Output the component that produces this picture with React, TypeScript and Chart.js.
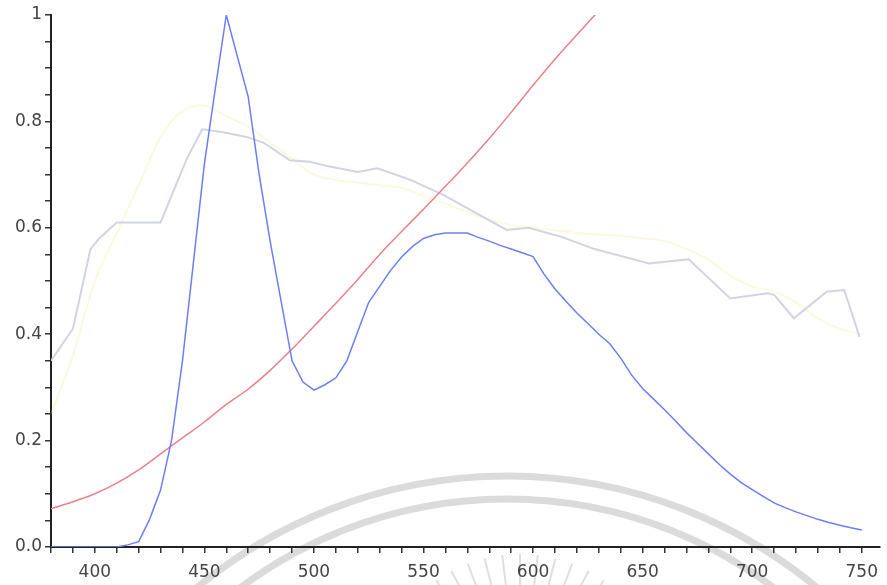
import React, { useEffect, useRef } from 'react';
import { Chart, registerables } from 'chart.js';

Chart.register(...registerables);

// ---- Data (wavelength in nm, relative values) ----
const blueX = [380, 385, 390, 395, 400, 405, 410, 415, 420, 425, 430, 435, 440, 445, 450, 455, 460, 465, 470, 475, 480, 485, 490, 495, 500, 505, 510, 515, 520, 525, 530, 535, 540, 545, 550, 555, 560, 565, 570, 575, 580, 585, 590, 595, 600, 605, 610, 615, 620, 625, 630, 635, 640, 645, 650, 655, 660, 665, 670, 675, 680, 685, 690, 695, 700, 705, 710, 715, 720, 725, 730, 735, 740, 745, 750];
const blueY = [0, 0, 0, 0, 0, 0, 0, 0.004, 0.01, 0.052, 0.107, 0.2, 0.35, 0.535, 0.72, 0.862, 1.0, 0.923, 0.846, 0.7, 0.575, 0.462, 0.35, 0.31, 0.295, 0.305, 0.318, 0.35, 0.405, 0.46, 0.49, 0.52, 0.545, 0.565, 0.58, 0.587, 0.59, 0.59, 0.59, 0.582, 0.575, 0.567, 0.56, 0.553, 0.546, 0.513, 0.485, 0.462, 0.44, 0.42, 0.4, 0.382, 0.355, 0.323, 0.298, 0.278, 0.258, 0.237, 0.215, 0.195, 0.175, 0.155, 0.137, 0.121, 0.108, 0.095, 0.083, 0.074, 0.066, 0.059, 0.052, 0.046, 0.041, 0.036, 0.032];

const redX = [380, 390, 400, 410, 420, 430, 440, 450, 460, 470, 480, 490, 500, 510, 520, 530, 540, 550, 560, 570, 580, 590, 600, 610, 620, 630];
const redY = [0.072, 0.085, 0.1, 0.12, 0.145, 0.175, 0.205, 0.235, 0.268, 0.297, 0.332, 0.372, 0.415, 0.458, 0.503, 0.55, 0.593, 0.635, 0.678, 0.722, 0.768, 0.817, 0.868, 0.917, 0.963, 1.008];

const grayX = [380, 390, 398, 402, 410, 430, 438, 442, 449, 458, 470, 477, 489, 498, 506, 520, 529, 544, 559, 588, 598, 613, 628, 653, 671, 690, 707, 710, 719, 734, 742, 749];
const grayY = [0.35, 0.41, 0.56, 0.58, 0.61, 0.61, 0.69, 0.73, 0.785, 0.78, 0.77, 0.76, 0.727, 0.724, 0.716, 0.705, 0.712, 0.69, 0.662, 0.596, 0.6, 0.583, 0.56, 0.533, 0.541, 0.467, 0.477, 0.474, 0.43, 0.48, 0.483, 0.395];

const yellowX = [380, 390, 400, 410, 420, 430, 440, 450, 460, 470, 480, 490, 500, 510, 520, 530, 540, 550, 560, 570, 580, 590, 600, 610, 620, 630, 640, 650, 660, 670, 680, 690, 700, 710, 720, 730, 740, 750];
const yellowY = [0.25, 0.36, 0.5, 0.59, 0.68, 0.77, 0.82, 0.83, 0.81, 0.79, 0.76, 0.73, 0.7, 0.69, 0.685, 0.68, 0.675, 0.66, 0.645, 0.63, 0.615, 0.605, 0.6, 0.595, 0.59, 0.587, 0.585, 0.58, 0.575, 0.56, 0.54, 0.51, 0.49, 0.48, 0.46, 0.43, 0.41, 0.4];

const xMajorTicks = [400, 450, 500, 550, 600, 650, 700, 750];
const yMajorTicks = [0, 0.2, 0.4, 0.6, 0.8, 1];
const yMajorLabels = ['0.0', '0.2', '0.4', '0.6', '0.8', '1'];

const toPoints = (xs: number[], ys: number[]) => xs.map((x, i) => ({ x, y: ys[i] }));

// Decorative background watermark (not data)
const watermark = {
  id: 'watermark',
  beforeDraw(chart: any) {
    const ctx = chart.ctx;
    ctx.save();
    ctx.strokeStyle = 'rgba(215,215,215,0.9)';
    ctx.lineWidth = 7;
    ctx.beginPath();
    ctx.arc(507, 962, 486, 0, Math.PI * 2);
    ctx.stroke();
    ctx.beginPath();
    ctx.arc(507, 944, 445, 0, Math.PI * 2);
    ctx.stroke();
    // sun rays (below the axis)
    ctx.strokeStyle = 'rgba(215,215,215,0.8)';
    ctx.lineWidth = 2;
    const cx = 520;
    const cy = 700;
    for (let a = -49; a <= 49; a += 7) {
      const r = (a * Math.PI) / 180;
      const sx = Math.sin(r);
      const sy = -Math.cos(r);
      ctx.beginPath();
      ctx.moveTo(cx + sx * 100, cy + sy * 100);
      ctx.lineTo(cx + sx * 146, cy + sy * 146);
      ctx.stroke();
    }
    ctx.restore();
  },
};

export default function App() {
  const ref = useRef<HTMLCanvasElement | null>(null);

  useEffect(() => {
    document.body.style.margin = '0';
    const canvas = ref.current;
    if (!canvas) return;
    const chart = new Chart(canvas, {
      type: 'line',
      data: {
        datasets: [
          {
            label: 'LED',
            data: toPoints(blueX, blueY),
            borderColor: '#6d7ff0',
            borderWidth: 1.5,
            pointRadius: 0,
            tension: 0,
          },
          {
            label: 'Red',
            data: toPoints(redX, redY),
            borderColor: '#ec808a',
            borderWidth: 1.5,
            pointRadius: 0,
            cubicInterpolationMode: 'monotone',
          },
          {
            label: 'Gray',
            data: toPoints(grayX, grayY),
            borderColor: '#d2d3e3',
            borderWidth: 2,
            pointRadius: 0,
            tension: 0,
          },
          {
            label: 'Yellow',
            data: toPoints(yellowX, yellowY),
            borderColor: 'rgba(240,232,140,0.28)',
            borderWidth: 2,
            pointRadius: 0,
            tension: 0.3,
          },
        ],
      },
      options: {
        responsive: false,
        animation: false,
        events: [],
        layout: { padding: { top: 15, right: 0, left: 0, bottom: 0 } },
        plugins: {
          legend: { display: false },
          tooltip: { enabled: false },
          title: { display: false },
        },
        scales: {
          x: {
            type: 'linear',
            min: 380,
            max: 758,
            afterFit: (scale: any) => {
              scale.height = 38;
            },
            border: { display: true, color: '#222', width: 2 },
            grid: {
              drawOnChartArea: false,
              drawTicks: true,
              tickLength: 6,
              tickColor: '#333',
              lineWidth: 1.5,
            },
            ticks: {
              stepSize: 10,
              includeBounds: false,
              autoSkip: false,
              maxRotation: 0,
              padding: 9,
              color: '#444',
              font: { family: 'DejaVu Sans', size: 17 },
              callback: (v: any) => {
                const n = Math.round(Number(v));
                return xMajorTicks.includes(n) ? String(n) : '';
              },
            },
          },
          y: {
            type: 'linear',
            min: 0,
            max: 1,
            afterFit: (scale: any) => {
              scale.width = 51;
            },
            border: { display: true, color: '#222', width: 2 },
            grid: {
              drawOnChartArea: false,
              drawTicks: true,
              tickLength: 6,
              tickColor: '#333',
              lineWidth: 1.5,
            },
            ticks: {
              stepSize: 0.05,
              autoSkip: false,
              padding: 3,
              color: '#444',
              font: { family: 'DejaVu Sans', size: 17 },
              callback: (v: any) => {
                const n = Number(v);
                const idx = yMajorTicks.findIndex((t) => Math.abs(t - n) < 1e-6);
                return idx >= 0 ? yMajorLabels[idx] : '';
              },
            },
          },
        },
      },
      plugins: [watermark],
    });
    return () => chart.destroy();
  }, []);

  return (
    <canvas
      ref={ref}
      width={887}
      height={585}
      style={{ position: 'absolute', left: 0, top: 0, width: 887, height: 585 }}
    />
  );
}
